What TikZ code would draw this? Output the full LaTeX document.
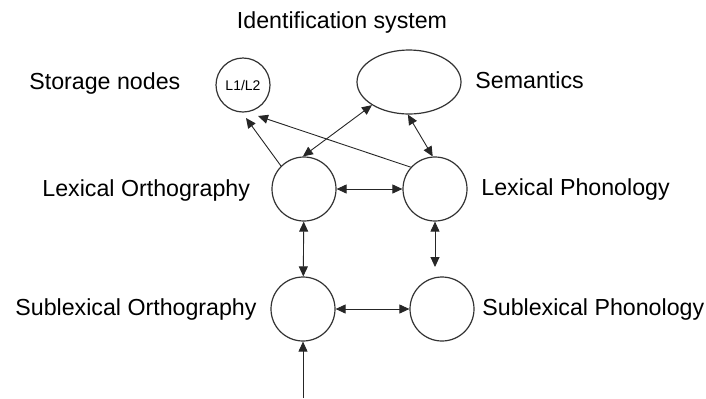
\documentclass[tikz,border=0pt]{standalone}
\usepackage{fontspec}
\setmainfont{Liberation Sans}
\usetikzlibrary{arrows.meta,shapes.geometric}
\tikzset{unit/.style = {circle, draw=black!80, line width=.6pt, minimum size=32pt, inner sep=0pt},
  link/.style = {{Triangle[length=5pt,width=4.5pt]}-{Triangle[length=5pt,width=4.5pt]}, line width=.45pt, black!85},
  feed/.style = {-{Triangle[length=5pt,width=4.5pt]}, line width=.45pt, black!85},
  lbl/.style = {anchor=west, inner sep=0pt, font=\fontsize{11.6}{13}\selectfont}}

\begin{document}
\begin{tikzpicture}[x=.5pt, y=-.5pt]
  \useasboundingbox (0,0) rectangle (706,398);
  % storage and semantics
  \node [unit, minimum size=27pt, font=\fontsize{7}{8}\selectfont] (st) at (243,85) {L1/L2};
  \node [ellipse, draw=black!80, line width=.6pt, minimum width=52pt, minimum height=32pt] (sem) at (409,82) {};
  % lexical and sublexical units
  \node [unit] (lo) at (304,189) {};
  \node [unit] (lp) at (435,189) {};
  \node [unit] (so) at (303,309) {};
  \node [unit] (sp) at (442,309) {};
  \coordinate (lst) at (246,118);
  \coordinate (pst) at (258,116);
  \coordinate (spgap) at (435,267);
  \coordinate (input) at (303,398);

  \node [anchor=center, font=\fontsize{11.6}{13}\selectfont] (title) at (342,22) {Identification system};
  \node [lbl] (stl) at (29,83) {Storage nodes};
  \node [lbl] (seml) at (475,80) {Semantics};
  \node [lbl] (lol) at (42,190) {Lexical Orthography};
  \node [lbl] (lpl) at (481,189) {Lexical Phonology};
  \node [lbl] (sol) at (15,309) {Sublexical Orthography};
  \node [lbl] (spl) at (482,309) {Sublexical Phonology};

  \draw [feed] (lo.135) -- (lst);
  \draw [feed] (lp.138) -- (pst);
  \draw [link] (sem.212) -- (lo.92);
  \draw [link] (sem.268) -- (lp.94);
  \draw [link] (lo) -- (lp);
  \draw [link] (lo) -- (so);
  \draw [link] (lp.south) -- (spgap);
  \draw [link] (so) -- (sp);
  \draw [feed] (input) -- (so);
\end{tikzpicture}
\end{document}
